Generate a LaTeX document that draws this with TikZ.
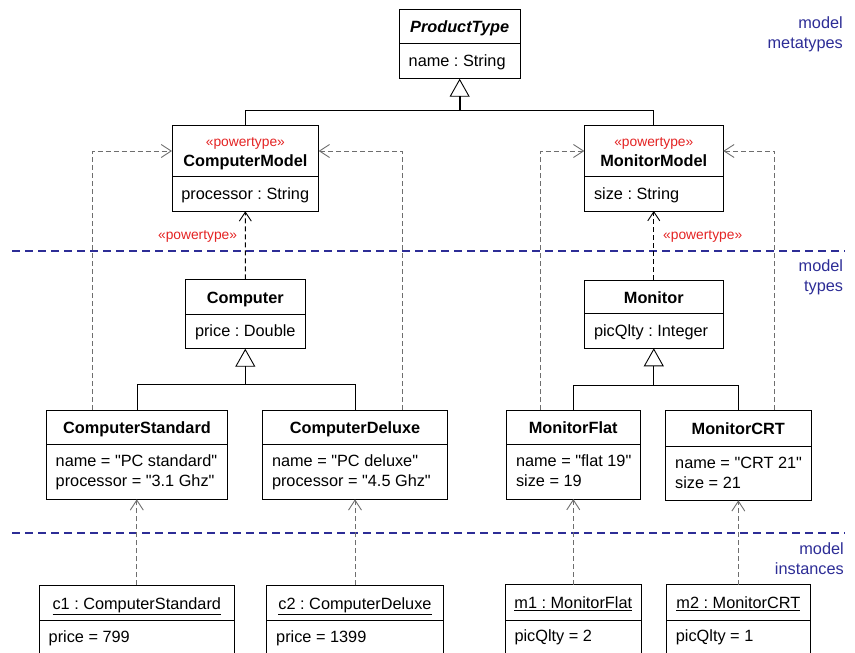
\documentclass[tikz,border=0pt]{standalone}
\usepackage{fontspec}
\setmainfont{Liberation Sans}
\usetikzlibrary{arrows.meta}
\newcommand{\fsz}{\fontsize{16.3}{20}\selectfont\frenchspacing}
\newcommand{\fsm}{\fontsize{13.8}{16}\selectfont}
\newcommand{\qq}{\XeTeXglyph\XeTeXcharglyph"22\relax}
\definecolor{ptred}{RGB}{228,35,35}
\definecolor{lblue}{RGB}{45,45,150}
\definecolor{dgray}{RGB}{110,110,110}
\newcommand{\umlbox}[6]{%
  \node[box, minimum width={#4-#2}, minimum height={#5-#3}] (#1) at ({(#2+#4)/2},{(#3+#5)/2}) {};
  \draw[boxline] (#1.west |- 0,#6) -- (#1.east |- 0,#6);
}
\begin{document}
\begin{tikzpicture}[x=1pt,y=-1pt,
  box/.style={draw, line width=0.9pt, inner sep=0pt, outer sep=0pt, fill=white},
  boxline/.style={line width=0.9pt},
  txt/.style={inner sep=0pt, font=\fsz, text height=11.7pt, text depth=0pt},
  title/.style={txt, font=\fsz\bfseries},
  attr/.style={txt, anchor=west},
  stereo/.style={inner sep=0pt, font=\fsm, text=ptred},
  lbl/.style={inner sep=0pt, font=\fsz, text=lblue},
  gen/.style={line width=0.9pt},
  gentip/.style={-{Triangle[open, length=18pt, width=20pt, line width=0.9pt]}},
  ptdash/.style={line width=0.9pt, dash pattern=on 5pt off 3pt, -{Straight Barb[length=9pt, width=12pt, line width=0.9pt]}},
  gdash/.style={line width=0.9pt, draw=dgray, dash pattern=on 5pt off 3pt, -{Straight Barb[length=10pt, width=13pt, line width=0.9pt]}},
  sep/.style={line width=1.4pt, draw=lblue, dash pattern=on 8pt off 5pt}
]
\useasboundingbox (0,0) rectangle (855,653);
\clip (0,0) rectangle (855,653);

% separators
\draw[sep] (12.3,251) -- (845,251);
\draw[sep] (12.3,533) -- (845,533);

% layer labels
\node[lbl, anchor=base east] (l1a) at (843,28.3) {model};
\node[lbl, anchor=base east] (l1b) at (843,48.3) {metatypes};
\node[lbl, anchor=base east] (l2a) at (843.3,271.7) {model};
\node[lbl, anchor=base east] (l2b) at (843.3,291.7) {types};
\node[lbl, anchor=base east] (l3a) at (844,554.3) {model};
\node[lbl, anchor=base east] (l3b) at (844,574) {instances};

% boxes
\umlbox{pt}{399.3}{9.3}{520}{78.7}{43.3}
\umlbox{cm}{172}{125.3}{318.7}{211.3}{176.7}
\umlbox{mm}{584.3}{125}{723.3}{211}{176.3}
\umlbox{comp}{185.3}{279.3}{305.3}{348.7}{314}
\umlbox{mon}{584.3}{280}{723.3}{348.3}{313.3}
\umlbox{cs}{46.7}{410}{227.3}{499.3}{444}
\umlbox{cd}{262.7}{410}{447.3}{499.3}{444}
\umlbox{mf}{506}{410}{640.3}{499}{444}
\umlbox{crt}{665.3}{410}{811.3}{500.3}{446}
\umlbox{c1}{39.3}{585.3}{234.3}{700}{620}
\umlbox{c2}{266.7}{585.3}{443.3}{700}{620}
\umlbox{m1}{505.3}{584.7}{641.3}{700}{620}
\umlbox{m2}{666.7}{584.7}{810}{700}{620}

% box texts
\node[title] (ptT) at (pt.north |- 0,26.8) {\textit{ProductType}};
\node[attr] (ptA) at (408.5,60.6) {name : String};

\node[stereo, anchor=base] (cmS) at (cm.north |- 0,146.5) {«powertype»};
\node[title] (cmT) at (cm.north |- 0,161) {ComputerModel};
\node[attr] (cmA) at (181.2,193.8) {processor : String};

\node[stereo, anchor=base] (mmS) at (mm.north |- 0,146.5) {«powertype»};
\node[title] (mmT) at (mm.north |- 0,161) {MonitorModel};
\node[attr] (mmA) at (593.8,193.2) {size : String};

\node[title] (compT) at (comp.north |- 0,297.2) {Computer};
\node[attr] (compA) at (194.8,331) {price : Double};

\node[title] (monT) at (mon.north |- 0,297.5) {Monitor};
\node[attr] (monA) at (593.8,330.8) {picQlty : Integer};

\node[title] (csT) at (cs.north |- 0,427.5) {ComputerStandard};
\node[attr] (csA) at (55.5,460.5) {name = \qq PC standard\qq};
\node[attr] (csB) at (55.5,480.5) {processor = \qq 3.1 Ghz\qq};

\node[title] (cdT) at (cd.north |- 0,427.5) {ComputerDeluxe};
\node[attr] (cdA) at (271.8,460.5) {name = \qq PC deluxe\qq};
\node[attr] (cdB) at (271.8,480.5) {processor = \qq 4.5 Ghz\qq};

\node[title] (mfT) at (mf.north |- 0,427.5) {MonitorFlat};
\node[attr] (mfA) at (515.8,460.5) {name = \qq flat 19\qq};
\node[attr] (mfB) at (515.8,480.5) {size = 19};

\node[title] (crtT) at (crt.north |- 0,429) {MonitorCRT};
\node[attr] (crtA) at (675,463) {name = \qq CRT 21\qq};
\node[attr] (crtB) at (675,482.5) {size = 21};

\node[txt] (c1T) at (c1.north |- 0,603.8) {\underline{c1 : ComputerStandard}};
\node[attr] (c1A) at (48.5,637) {price = 799};
\node[txt] (c2T) at (c2.north |- 0,603.8) {\underline{c2 : ComputerDeluxe}};
\node[attr] (c2A) at (276,637) {price = 1399};
\node[txt] (m1T) at (m1.north |- 0,602.5) {\underline{m1 : MonitorFlat}};
\node[attr] (m1A) at (514.3,636) {picQlty = 2};
\node[txt] (m2T) at (m2.north |- 0,602.5) {\underline{m2 : MonitorCRT}};
\node[attr] (m2A) at (675.7,636) {picQlty = 1};

% generalizations
\coordinate (g1) at (pt.south |- 0,110);
\draw[gen] (cm.north) -- (cm.north |- g1) -| (mm.north);
\draw[line width=2pt, gentip] (g1) -- (pt.south);

\coordinate (g2) at (comp.south |- 0,384);
\draw[gen] (cs.north) -- (cs.north |- g2) -| (cd.north);
\draw[gen, gentip] (g2) -- (comp.south);

\coordinate (g3) at (mon.south |- 0,385.7);
\draw[gen] (mf.north) -- (mf.north |- g3) -| (crt.north);
\draw[gen, gentip] (g3) -- (mon.south);

% powertype dependencies
\draw[ptdash] (comp.north) -- (cm.south);
\draw[ptdash] (mon.north) -- (mm.south);
\node[stereo, anchor=base east] (pl1) at (237.3,239.8) {«powertype»};
\node[stereo, anchor=base west] (pl2) at (663,239.8) {«powertype»};

% instance-of dependencies (types to metatypes)
\draw[gdash] ([xshift=-44.3pt]cs.north) |- ([yshift=17.3pt]cm.west);
\draw[gdash] ([xshift=47pt]cd.north) |- ([yshift=17.3pt]cm.east);
\draw[gdash] ([xshift=-32.45pt]mf.north) |- ([yshift=17pt]mm.west);
\draw[gdash] ([xshift=36.4pt]crt.north) |- ([yshift=17pt]mm.east);

% instance-of dependencies (instances to types)
\draw[gdash] (c1.north) -- (c1.north |- cs.south);
\draw[gdash] (c2.north) -- (c2.north |- cd.south);
\draw[gdash] (m1.north) -- (m1.north |- mf.south);
\draw[gdash] (m2.north) -- (m2.north |- crt.south);
\end{tikzpicture}
\end{document}
